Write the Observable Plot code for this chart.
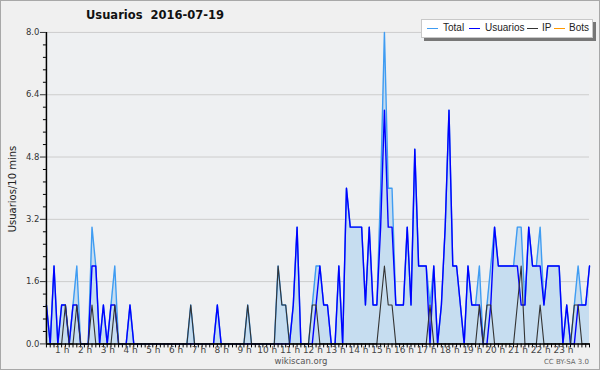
<!DOCTYPE html>
<html><head><meta charset="utf-8">
<script src="https://cdn.jsdelivr.net/npm/d3@7"></script>
<script src="https://cdn.jsdelivr.net/npm/@observablehq/plot@0.6"></script>
<style>
body{margin:0;background:#fff;}
#wrap{position:relative;width:600px;height:370px;box-sizing:border-box;border:1px solid #a8a8a8;background:#f0f0f0;overflow:hidden;font-family:"DejaVu Sans",sans-serif;}
#chart{position:absolute;left:-1px;top:-1px;}
#title{position:absolute;left:85px;top:7px;font-weight:bold;font-size:11.5px;color:#111;white-space:pre;}
#ylab{position:absolute;left:11px;top:188px;font-size:10px;color:#222;transform:translate(-50%,-50%) rotate(-90deg);white-space:pre;}
#legend{position:absolute;left:420px;top:18px;width:170px;height:17px;background:#fff;border:1px solid #c8c8c8;box-shadow:3px 3px 0 #777;font-family:"Liberation Sans",sans-serif;font-size:10px;color:#222;}
#legend span.sw{position:absolute;top:8px;width:11px;height:0;border-top:1.5px solid;}
#legend span.t{position:absolute;top:2px;}
#foot{position:absolute;left:0;width:600px;top:355px;text-align:center;font-size:8.5px;color:#555;}
#cc{position:absolute;right:10px;top:357px;font-size:7px;color:#666;}
</style></head><body>
<div id="wrap">
<div id="chart"></div>
<div id="title">Usuarios  2016-07-19</div>
<div id="ylab">Usuarios/10 mins</div>
<div id="legend"></div>
<div id="foot">wikiscan.org</div>
<div id="cc">CC BY-SA 3.0</div>
</div>
<script>
// 10-minute slots 0..143
const slots = d3.range(144);
const usuarios = [
1,0,2,0,1,1,0,1,1,0,
0,0,2,2,0,1,0,1,1,0,
0,0,1,0,0,0,0,0,0,0,
0,0,0,0,0,0,0,0,0,0,
0,0,0,0,0,1,0,0,0,0,
0,0,0,0,0,0,0,0,0,0,
0,0,0,0,0,1,3,0,0,0,
0,1,2,1,1,0,0,2,0,4,
3,3,3,3,1,3,1,1,3,6,
3,3,1,1,1,3,1,5,2,2,
2,0,2,0,1,3,6,2,2,1,
0,2,1,1,1,0,0,1,3,2,
2,2,2,2,2,1,1,3,2,2,
2,1,2,2,2,2,0,1,0,0,
1,1,1,2];
const ip = [
0,0,0,0,0,1,0,0,1,0,
0,0,1,0,0,0,0,0,1,0,
0,0,0,0,0,0,0,0,0,0,
0,0,0,0,0,0,0,0,1,0,
0,0,0,0,0,0,0,0,0,0,
0,0,0,1,0,0,0,0,0,0,
0,2,1,1,0,0,0,0,0,0,
1,1,0,0,0,0,0,0,0,0,
0,0,0,0,0,0,0,0,1,2,
1,1,0,0,0,0,0,0,0,0,
0,1,0,0,0,0,0,0,0,0,
0,0,0,0,1,0,1,1,0,0,
0,0,0,0,1,2,0,0,0,0,
1,0,0,0,0,0,0,0,0,1,
1,0,0,0];
const total = [
1,0,2,0,1,1,0,1,2,0,
0,0,3,2,0,1,0,1,2,0,
0,0,1,0,0,0,0,0,0,0,
0,0,0,0,0,0,0,0,1,0,
0,0,0,0,0,1,0,0,0,0,
0,0,0,1,0,0,0,0,0,0,
0,2,1,1,0,1,3,0,0,0,
1,2,2,1,1,0,0,2,0,4,
3,3,3,3,1,3,1,1,4,8,
4,4,1,1,1,3,1,5,2,2,
2,1,2,0,1,3,6,2,2,1,
0,2,1,1,2,0,1,2,3,2,
2,2,2,2,3,3,1,3,2,2,
3,1,2,2,2,2,0,1,0,1,
2,1,1,2];
const hourTicks = [1,2,3,4,5,6,7,8,9,10,11,12,13,14,15,16,17,18,19,20,21,22,23];
const yMajor = [0,1.6,3.2,4.8,6.4,8.0];
const yMinor = [0.32,0.64,0.96,1.28,1.92,2.24,2.56,2.88,3.52,3.84,4.16,4.48,5.12,5.44,5.76,6.08,6.72,7.04,7.36,7.68];
const seriesNames = ["Total","Usuarios","IP","Bots"];
const seriesColors = ["#3f9cf2","#0000ff","#333333","#ff9900"];

const data = slots.map(i => ({i, total: total[i], u: usuarios[i], ip: ip[i]}));

const chart = Plot.plot({
  width: 600, height: 370,
  marginLeft: 46, marginRight: 10, marginTop: 32, marginBottom: 26,
  x: {domain: [0, 143], axis: null},
  y: {domain: [0, 8], axis: null},
  style: {background: "transparent", fontFamily: "DejaVu Sans, sans-serif", overflow: "visible"},
  marks: [
    Plot.frame({fill: "#eef0f2", stroke: null}),
    Plot.ruleY(yMajor.slice(1), {stroke: "#cdcdcd", strokeWidth: 1}),
    Plot.areaY(data, {x: "i", y: "total", fill: "#c6ddf0"}),
    Plot.lineY(data, {x: "i", y: "total", stroke: seriesColors[0], strokeWidth: 1.4}),
    Plot.lineY(data, {x: "i", y: "u", stroke: seriesColors[1], strokeWidth: 1.4}),
    Plot.lineY(data, {x: "i", y: "ip", stroke: seriesColors[2], strokeWidth: 1.1}),
    Plot.ruleX([0], {stroke: "#000", strokeWidth: 1.5}),
    Plot.ruleY([0], {stroke: "#000", strokeWidth: 1.5}),
    Plot.axisY(yMajor, {tickSize: 6, tickPadding: 1, tickFormat: d3.format(".1f"), fontSize: 8.5, color: "#333", label: null}),
    Plot.axisY(yMinor, {tickSize: 3, tickFormat: () => "", label: null}),
    Plot.axisX(slots, {tickSize: 4, tickFormat: () => "", label: null}),
    Plot.axisX(hourTicks.map(h => h * 6), {tickSize: 0, tickPadding: 3, dx: -7, tickFormat: d => `${d / 6} h`, fontSize: 9, color: "#444", label: null})
  ]
});
document.getElementById("chart").appendChild(chart);

// legend
const lg = document.getElementById("legend");
const legendPos = [[5, 21], [47, 63], [105, 120], [132, 147]];
seriesNames.forEach((n, k) => {
  const sw = document.createElement("span");
  sw.className = "sw"; sw.style.left = legendPos[k][0] + "px"; sw.style.borderColor = seriesColors[k];
  lg.appendChild(sw);
  const t = document.createElement("span");
  t.className = "t"; t.style.left = legendPos[k][1] + "px"; t.textContent = n;
  lg.appendChild(t);
});
</script>
</body></html>
